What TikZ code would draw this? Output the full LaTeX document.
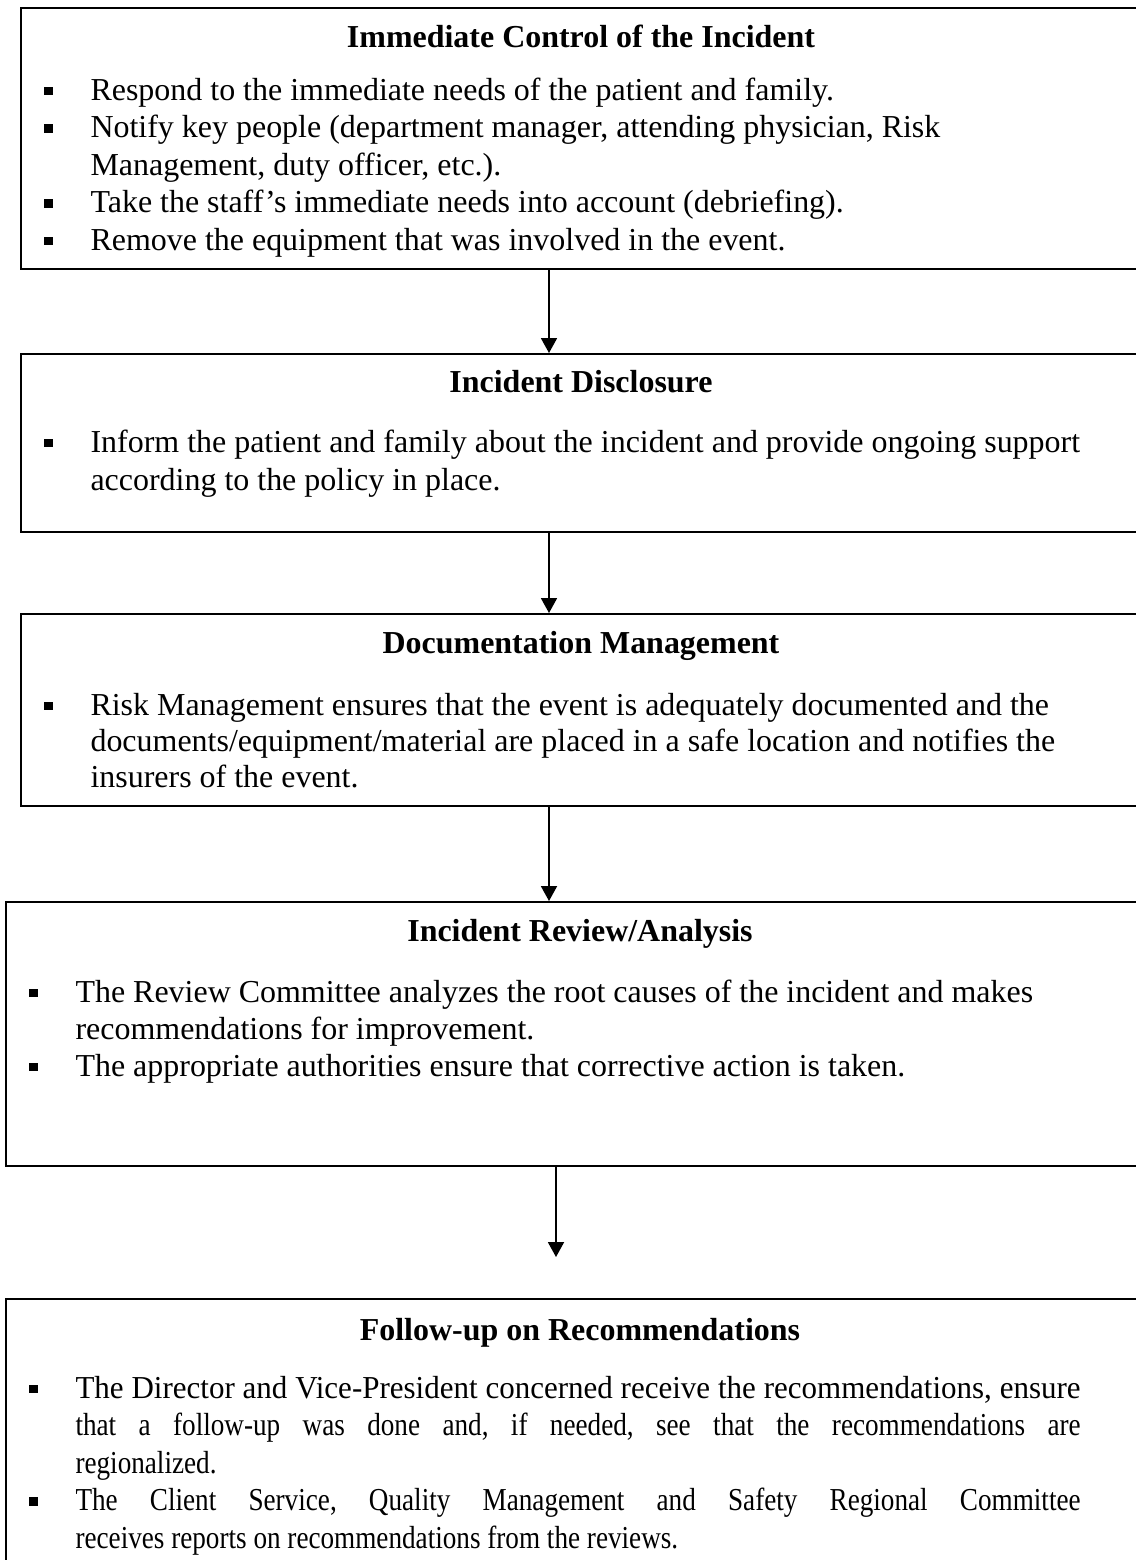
\documentclass[tikz,border=0pt]{standalone}
\usepackage{fontspec}
\setmainfont{Liberation Serif}
\newfontfamily\narrowserif{Liberation Serif}[FakeStretch=0.85]
\newfontfamily\tightserif{Liberation Serif}[FakeStretch=0.97]
\usetikzlibrary{arrows.meta}
\pgfdeclarelayer{edgelayer}
\pgfdeclarelayer{nodelayer}
\pgfsetlayers{edgelayer,nodelayer,main}
\frenchspacing
\newcommand{\pxu}{0.3755pt}
\newcommand{\sqbullet}{\llap{\rule[1.7pt]{3.4pt}{3.3pt}\hspace{14pt}}}
\tikzstyle{none}=[inner sep=0pt]
\tikzstyle{panel}=[rectangle,draw=black,line width=0.6pt,anchor=north west,inner sep=0pt,minimum width={1140*\pxu}]
\tikzstyle{heading}=[inner sep=0pt,anchor=base,font=\fontsize{12}{13.8}\selectfont\bfseries]
\tikzstyle{textline}=[inner sep=0pt,anchor=base west,font=\fontsize{12}{13.8}\selectfont]
\tikzstyle{flow}=[-{Triangle[length=5.6pt,width=6pt]},draw=black,line width=0.65pt]

\begin{document}
\begin{tikzpicture}[x=\pxu, y=-\pxu]
	\useasboundingbox (0, 0) rectangle (1136, 1560);
	\begin{pgfonlayer}{nodelayer}
		\node [style=panel, minimum height={261*\pxu}] (0) at (20, 7) {};
		\node [style=panel, minimum height={178*\pxu}] (1) at (20, 353) {};
		\node [style=panel, minimum height={192*\pxu}] (2) at (20, 613) {};
		\node [style=panel, minimum height={264*\pxu}] (3) at (5, 901) {};
		\node [style=panel, minimum height={300*\pxu}] (4) at (5, 1298) {};
		\coordinate (5) at (549, 0);
		\coordinate (6) at (556, 1257);

		% immediate control
		\node [style=heading] (10) at (581, 47) {Immediate Control of the Incident};
		\node [style=textline] (11) at (90, 100) {\sqbullet Respond to the immediate needs of the patient and family.};
		\node [style=textline] (12) at (90, 137.5) {\sqbullet Notify key people (department manager, attending physician, Risk};
		\node [style=textline] (13) at (90, 175) {Management, duty officer, etc.).};
		\node [style=textline] (14) at (90, 212.5) {\sqbullet Take the staff’s immediate needs into account (debriefing).};
		\node [style=textline] (15) at (90, 250) {\sqbullet Remove the equipment that was involved in the event.};

		% disclosure
		\node [style=heading] (20) at (581, 392) {Incident Disclosure};
		\node [style=textline] (21) at (90, 452) {\sqbullet Inform the patient and family about the incident and provide ongoing support};
		\node [style=textline] (22) at (90, 490) {according to the policy in place.};

		% documentation
		\node [style=heading] (30) at (581, 653) {Documentation Management};
		\node [style=textline] (31) at (90, 715) {\sqbullet Risk Management ensures that the event is adequately documented and the};
		\node [style=textline] (32) at (90, 751) {documents/equipment/material are placed in a safe location and notifies the};
		\node [style=textline] (33) at (90, 787) {insurers of the event.};

		% review
		\node [style=heading] (40) at (580, 941) {Incident Review/Analysis};
		\node [style=textline] (41) at (75, 1002) {\sqbullet The Review Committee analyzes the root causes of the incident and makes};
		\node [style=textline] (42) at (75, 1039) {recommendations for improvement.};
		\node [style=textline] (43) at (75, 1076) {\sqbullet The appropriate authorities ensure that corrective action is taken.};

		% follow-up
		\node [style=heading] (50) at (580, 1340) {Follow-up on Recommendations};
		\node [style=textline] (51) at (75, 1398) {\sqbullet\makebox[377.4pt][s]{\tightserif The Director and Vice-President concerned receive the recommendations, ensure}};
		\node [style=textline] (52) at (75, 1435.5) {\makebox[377.4pt][s]{\narrowserif that a follow-up was done and, if needed, see that the recommendations are}};
		\node [style=textline] (53) at (75, 1473) {\narrowserif regionalized.};
		\node [style=textline] (54) at (75, 1510.5) {\sqbullet\makebox[377.4pt][s]{\narrowserif The Client Service, Quality Management and Safety Regional Committee}};
		\node [style=textline] (55) at (75, 1548) {\narrowserif receives reports on recommendations from the reviews.};
	\end{pgfonlayer}
	\begin{pgfonlayer}{edgelayer}
		\draw [style=flow] (0.south -| 5) to (1.north -| 5);
		\draw [style=flow] (1.south -| 5) to (2.north -| 5);
		\draw [style=flow] (2.south -| 5) to (3.north -| 5);
		\draw [style=flow] (3.south -| 6) to (6);
	\end{pgfonlayer}
\end{tikzpicture}
\end{document}
